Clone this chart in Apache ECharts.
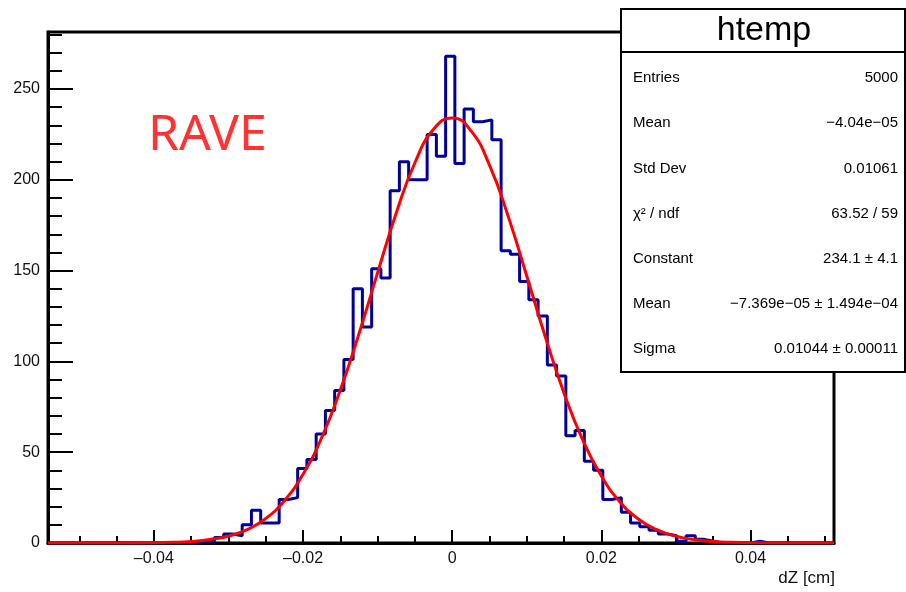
<!DOCTYPE html>
<html>
<head>
<meta charset="utf-8">
<script src="https://cdn.jsdelivr.net/npm/echarts@6/dist/echarts.min.js"></script>
<style>
  html, body { margin: 0; padding: 0; background: #fff; }
  #main { width: 906px; height: 592px; }
</style>
</head>
<body>
<div id="main"></div>
<script>
// histogram binning (85 bins)
var xMin = -0.0542;
var xMax = 0.0512;
var binWidth = 0.00124;
var counts = [
  0, 0, 0, 0, 0, 0, 0, 0, 0, 0, 0, 0, 0, 0, 0, 0,
  1, 1, 3, 5, 4, 10, 18, 11, 11, 24, 25, 41, 46, 60,
  73, 84, 101, 140, 119, 151, 146, 194, 210, 200,
  200, 225, 213, 268, 209, 239, 232, 233, 222, 161,
  159, 144, 134, 125, 98, 92, 59, 62, 45, 40,
  24, 25, 17, 11, 9, 7, 5, 4, 1, 4,
  2, 1, 0, 0, 0, 0, 1,
  0, 0, 0, 0, 0, 0, 0, 0
];

// gaussian fit curve
var fitX = [-0.0542, -0.045, -0.04, -0.0375, -0.035, -0.0325, -0.03, -0.0275, -0.025, -0.0225,
  -0.02, -0.0175, -0.015, -0.0125, -0.01, -0.0075, -0.005, -0.0025, 0, 0.0025, 0.005, 0.0075,
  0.01, 0.0125, 0.015, 0.0175, 0.02, 0.0225, 0.025, 0.0275, 0.03, 0.0325, 0.035, 0.0375, 0.04,
  0.045, 0.0512];
var fitY = [0, 0.02, 0.15, 0.38, 0.86, 1.9, 3.8, 7.4, 13.5, 23.3,
  37.9, 58.0, 84.2, 115.2, 148.9, 181.7, 209.4, 227.8, 234.1, 227.1, 208.1, 180.0,
  147.0, 113.4, 82.5, 56.8, 36.9, 22.6, 13.1, 7.2, 3.7, 1.8, 0.83, 0.37, 0.15,
  0.02, 0];

// ticks
var yMax = 281.4;
var majorTicksX = [-0.04, -0.02, 0, 0.02, 0.04];
var minorTicksX = [-0.05, -0.045, -0.035, -0.03, -0.025, -0.015, -0.01, -0.005,
  0.005, 0.01, 0.015, 0.025, 0.03, 0.035, 0.045, 0.05];
var majorTicksY = [0, 50, 100, 150, 200, 250];
var minorTicksY = [10, 20, 30, 40, 60, 70, 80, 90, 110, 120, 130, 140, 160, 170, 180, 190,
  210, 220, 230, 240, 260, 270, 280];

// stats box
var statNames = ['Entries', 'Mean', 'Std Dev', '\u03c7\u00b2 / ndf', 'Constant', 'Mean', 'Sigma'];
var statValues = ['5000', '\u22124.04e\u221205', '0.01061', '63.52 / 59', '234.1 \u00b1 4.1',
  '\u22127.369e\u221205 \u00b1 1.494e\u221204', '0.01044 \u00b1 0.00011'];

var histData = counts.map(function (c, i) { return [xMin + i * binWidth, c]; });
histData.push([xMin + counts.length * binWidth, counts[counts.length - 1]]);
var fitData = fitX.map(function (x, i) { return [x, fitY[i]]; });

var font = 'Liberation Sans, Arial, sans-serif';
function fmtX(v) {
  if (Math.abs(v) < 1e-12) return '0';
  return (v < 0 ? '\u2013' : '') + Math.abs(v).toFixed(2);
}

var statsGraphic = [
  { type: 'rect', shape: { x: 621, y: 9, width: 284, height: 363 },
    style: { fill: '#fff', stroke: '#000', lineWidth: 2 }, z: 100 },
  { type: 'line', shape: { x1: 621, y1: 52, x2: 905, y2: 52 },
    style: { stroke: '#000', lineWidth: 2 }, z: 101 },
  { type: 'text', x: 764, y: 31, z: 101,
    style: { text: 'htemp', fontSize: 34, fontFamily: font, fill: '#000',
      align: 'center', verticalAlign: 'middle' } },
  { type: 'text', x: 835, y: 578, z: 101,
    style: { text: 'dZ [cm]', fontSize: 17, fontFamily: font, fill: '#111',
      align: 'right', verticalAlign: 'middle' } },
  { type: 'text', x: 148, y: 136, z: 101,
    style: { text: 'RAVE', fontSize: 50, fontFamily: 'Noto Sans', fill: '#ff3333',
      align: 'left', verticalAlign: 'middle' } }
];
statNames.forEach(function (n, i) {
  var y = 78 + i * 45.2;
  statsGraphic.push({ type: 'text', x: 633, y: y, z: 101,
    style: { text: n, fontSize: 15, fontFamily: font, fill: '#000', align: 'left', verticalAlign: 'middle' } });
  statsGraphic.push({ type: 'text', x: 898, y: y, z: 101,
    style: { text: statValues[i], fontSize: 15, fontFamily: font, fill: '#000', align: 'right', verticalAlign: 'middle' } });
});

var chart = echarts.init(document.getElementById('main'), null, { renderer: 'canvas' });
var option = {
  animation: false,
  backgroundColor: '#fff',
  grid: { left: 48, right: 72, top: 32, bottom: 49, show: true, borderColor: '#000', borderWidth: 3 },
  xAxis: [
    {
      type: 'value', min: xMin, max: xMax, position: 'bottom',
      axisLine: { onZero: false, lineStyle: { color: '#000', width: 3 } },
      axisTick: { inside: true, length: 13, customValues: majorTicksX, lineStyle: { color: '#000', width: 2 } },
      axisLabel: { customValues: majorTicksX, formatter: fmtX, fontSize: 16, color: '#111', fontFamily: font, margin: 8 },
      splitLine: { show: false }
    },
    {
      type: 'value', min: xMin, max: xMax, position: 'bottom',
      axisLine: { show: false, onZero: false },
      axisTick: { inside: true, length: 7, customValues: minorTicksX, lineStyle: { color: '#000', width: 2 } },
      axisLabel: { show: false },
      splitLine: { show: false }
    }
  ],
  yAxis: [
    {
      type: 'value', min: 0, max: yMax, position: 'left',
      axisLine: { show: true, onZero: false, lineStyle: { color: '#000', width: 3 } },
      axisTick: { inside: true, length: 25, customValues: majorTicksY, lineStyle: { color: '#000', width: 2 } },
      axisLabel: { customValues: majorTicksY, fontSize: 16, color: '#111', fontFamily: font, margin: 8 },
      splitLine: { show: false }
    },
    {
      type: 'value', min: 0, max: yMax, position: 'left',
      axisLine: { show: false, onZero: false },
      axisTick: { inside: true, length: 14, customValues: minorTicksY, lineStyle: { color: '#000', width: 2 } },
      axisLabel: { show: false },
      splitLine: { show: false }
    }
  ],
  series: [
    {
      type: 'line', name: 'htemp', xAxisIndex: 0, yAxisIndex: 0,
      data: histData, step: 'end', showSymbol: false, symbol: 'none',
      lineStyle: { color: '#000099', width: 3 }, z: 3
    },
    {
      type: 'line', name: 'gaus', xAxisIndex: 0, yAxisIndex: 0,
      data: fitData, smooth: true, showSymbol: false, symbol: 'none',
      lineStyle: { color: '#ff0000', width: 3 }, z: 4
    }
  ],
  graphic: statsGraphic
};
chart.setOption(option);
</script>
</body>
</html>
